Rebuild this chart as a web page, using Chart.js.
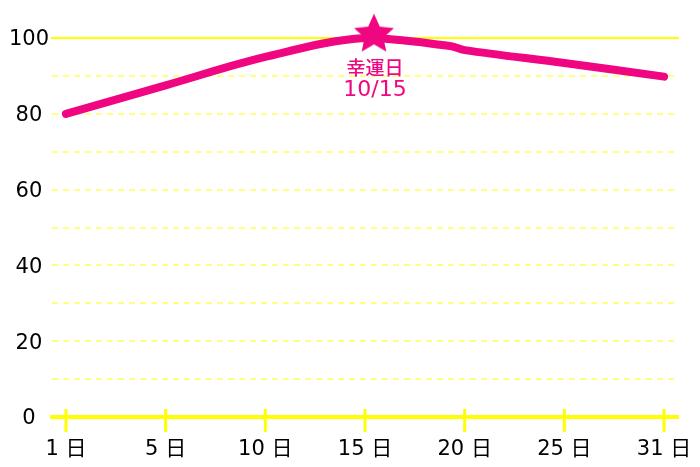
<!DOCTYPE html>
<html lang="ja">
  <head>
    <meta charset="UTF-8" />
    <title>幸運日</title>
    <style>
      html, body { margin: 0; padding: 0; background: #fff; }
      #wrap { width: 700px; height: 467px; }
    </style>
  </head>
  <body>
    <div id="wrap"><canvas id="myChart"></canvas></div>

    <script src="https://cdn.jsdelivr.net/npm/chart.js"></script>
    <script>
      // 横軸の目盛り（位置は 0〜6 の枠で等間隔）
      const tickSlots = [0, 1, 2, 3, 4, 5, 6];
      const tickLabels = ['1 日', '5 日', '10 日', '15 日', '20 日', '25 日', '31 日'];

      // 折れ線のデータ
      const lineSlots = [0, 1, 2, 3, 3.85, 4, 5, 6];
      const lineValues = [80, 87.5, 95, 100, 97.9, 96.8, 93.4, 89.8];

      // 幸運日の星
      const starSlots = [3.09];
      const starValues = [100.9];
      const starLabel = ['幸運日', '10/15'];

      const yLabelValues = [0, 20, 40, 60, 80, 100];

      const PINK = '#ef0680';
      const YELLOW = '#ffff00';
      const FONT = '"DejaVu Sans", "Noto Sans CJK JP", sans-serif';
      const JP_FONT = '"Noto Sans CJK JP", sans-serif';

      // 塗りつぶしの星を画像として作る
      function makeStar(r) {
        const c = document.createElement('canvas');
        c.width = c.height = r * 2 + 2;
        const g = c.getContext('2d');
        const cx = r + 1, cy = r + 1, inner = r * 0.47;
        g.beginPath();
        for (let i = 0; i < 10; i++) {
          const rad = i % 2 === 0 ? r : inner;
          const a = -Math.PI / 2 + i * Math.PI / 5;
          g.lineTo(cx + rad * Math.cos(a), cy + rad * Math.sin(a));
        }
        g.closePath();
        g.fillStyle = PINK;
        g.fill();
        return c;
      }

      const tickCross = {
        id: 'tickCross',
        afterDraw(chart) {
          const ctx = chart.ctx;
          const x = chart.scales.x;
          const y0 = x.top;
          ctx.save();
          ctx.strokeStyle = YELLOW;
          ctx.lineWidth = 3;
          tickSlots.forEach(v => {
            const px = x.getPixelForValue(v);
            ctx.beginPath();
            ctx.moveTo(px, y0 - 8);
            ctx.lineTo(px, y0 + 15);
            ctx.stroke();
          });
          ctx.restore();
        }
      };

      const starText = {
        id: 'starText',
        afterDatasetsDraw(chart) {
          const ctx = chart.ctx;
          const px = chart.scales.x.getPixelForValue(starSlots[0]);
          const py = chart.scales.y.getPixelForValue(starValues[0]);
          ctx.save();
          ctx.fillStyle = PINK;
          ctx.textAlign = 'center';
          ctx.textBaseline = 'middle';
          ctx.font = '500 19px ' + JP_FONT;
          ctx.fillText(starLabel[0], px + 1, py + 33);
          ctx.font = '22px ' + FONT;
          ctx.fillText(starLabel[1], px + 1, py + 56);
          ctx.restore();
        }
      };

      new Chart(document.getElementById('myChart'), {
        type: 'line',
        data: {
          datasets: [
            {
              data: starSlots.map((s, i) => ({ x: s, y: starValues[i] })),
              showLine: false,
              pointStyle: makeStar(21),
              pointRadius: 21,
              order: 0
            },
            {
              data: lineSlots.map((s, i) => ({ x: s, y: lineValues[i] })),
              borderColor: PINK,
              borderWidth: 8,
              borderCapStyle: 'round',
              borderJoinStyle: 'round',
              tension: 0.35,
              pointRadius: 0,
              fill: false,
              order: 1
            }
          ]
        },
        plugins: [tickCross, starText],
        options: {
          responsive: true,
          maintainAspectRatio: false,
          animation: false,
          clip: false,
          layout: { padding: { top: 38, right: 20, left: 0, bottom: 0 } },
          plugins: { legend: { display: false }, tooltip: { enabled: false } },
          scales: {
            x: {
              type: 'linear',
              min: -0.14,
              max: 6.14,
              afterBuildTicks: s => { s.ticks = tickSlots.map(v => ({ value: v })); },
              afterFit: s => { s.height = 50; s.paddingLeft = 0; s.paddingRight = 0; },
              grid: { display: false, drawTicks: false },
              border: { display: true, color: YELLOW, width: 4 },
              ticks: {
                padding: 20,
                color: '#000',
                maxRotation: 0,
                font: { family: FONT, size: 21 },
                callback: v => tickLabels[tickSlots.indexOf(v)]
              }
            },
            xTop: {
              type: 'linear',
              position: 'top',
              min: -0.14,
              max: 6.14,
              afterFit: s => { s.height = 0; },
              grid: { display: false, drawTicks: false },
              border: { display: true, color: YELLOW, width: 2 },
              ticks: { display: false }
            },
            y: {
              min: 0,
              max: 100,
              afterFit: s => { s.width = 52; },
              grid: {
                drawTicks: false,
                lineWidth: 2,
                color: c => (c.tick.value === 0 || c.tick.value === 100) ? 'rgba(0,0,0,0)' : '#ffff80'
              },
              border: { display: false, dash: [6, 5] },
              ticks: {
                stepSize: 10,
                padding: 3,
                labelOffset: 2,
                crossAlign: 'center',
                color: '#000',
                font: { family: FONT, size: 21 },
                callback: v => yLabelValues.includes(v) ? String(v) : ''
              }
            }
          }
        }
      });
    </script>
  </body>
</html>
